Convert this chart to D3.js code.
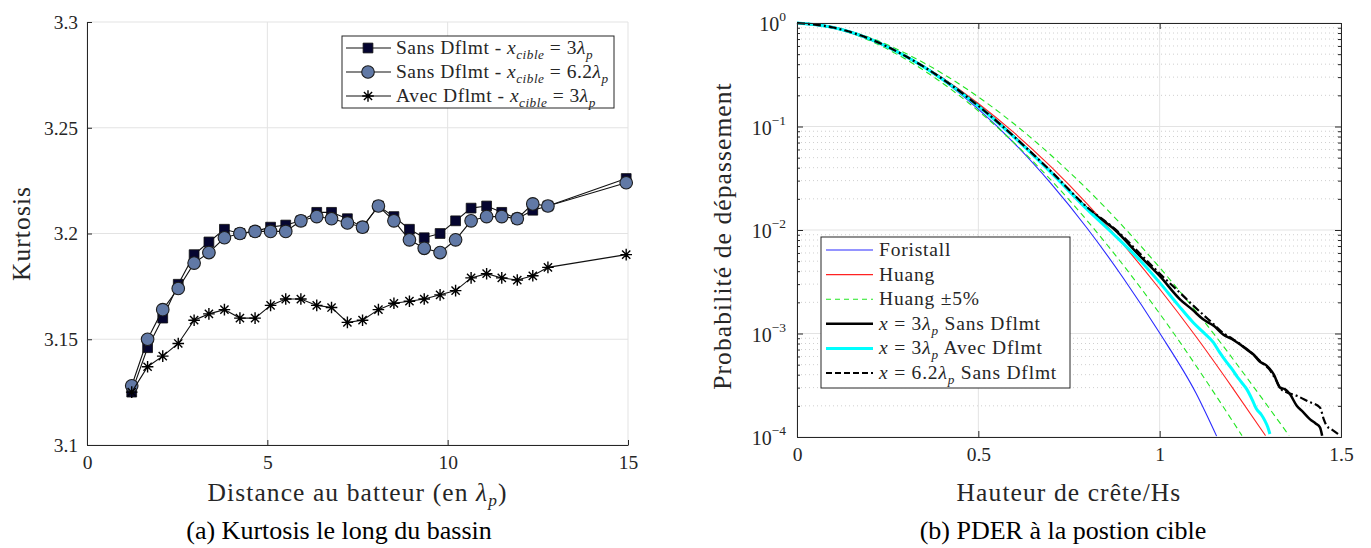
<!DOCTYPE html>
<html>
<head>
<meta charset="utf-8">
<script src="https://cdn.jsdelivr.net/npm/d3@7"></script>
<style>
    body { margin: 0; background: #fff; }
    text { font-family: 'Liberation Serif', 'DejaVu Serif', serif; fill: #262626; }
</style>
</head>
<body>
<svg id="chartSVG"></svg>
<script>
// (a) kurtosis along the tank
var distance = [1.24, 1.68, 2.10, 2.53, 2.97, 3.38, 3.81, 4.24, 4.66, 5.09, 5.51, 5.93, 6.37, 6.78, 7.22, 7.64, 8.08, 8.51, 8.94, 9.35, 9.79, 10.22, 10.65, 11.08, 11.50, 11.93, 12.36, 12.78, 14.95]
var kurtSans3 = [3.125, 3.146, 3.160, 3.176, 3.190, 3.196, 3.202, 3.200, 3.201, 3.203, 3.204, 3.206, 3.210, 3.210, 3.207, 3.203, 3.213, 3.208, 3.202, 3.198, 3.200, 3.206, 3.212, 3.213, 3.210, 3.207, 3.211, 3.213, 3.226]
var kurtSans62 = [3.128, 3.150, 3.164, 3.174, 3.186, 3.191, 3.198, 3.200, 3.201, 3.201, 3.201, 3.206, 3.208, 3.207, 3.205, 3.203, 3.213, 3.206, 3.197, 3.193, 3.191, 3.197, 3.206, 3.208, 3.208, 3.207, 3.214, 3.213, 3.224]
var kurtAvec3 = [3.125, 3.137, 3.142, 3.148, 3.159, 3.162, 3.164, 3.160, 3.160, 3.166, 3.169, 3.169, 3.166, 3.165, 3.158, 3.159, 3.164, 3.167, 3.168, 3.169, 3.171, 3.173, 3.179, 3.181, 3.179, 3.178, 3.180, 3.184, 3.190]
var distTicks = [0, 5, 10, 15]
var kurtTicks = [3.1, 3.15, 3.2, 3.25, 3.3]

// (b) exceedance probability of crest height
var hForistall = [0, 0.1, 0.2, 0.3, 0.4, 0.5, 0.6, 0.7, 0.8, 0.9, 1.0, 1.1, 1.157]
var pForistall = [1, 0.907, 0.704, 0.475, 0.282, 0.147, 0.0684, 0.0282, 0.0104, 0.00342, 0.00101, 0.000266, 0.000102]
var hHuang = [0, 0.1, 0.2, 0.3, 0.4, 0.5, 0.6, 0.7, 0.8, 0.9, 1.0, 1.1, 1.2, 1.292]
var pHuang = [1, 0.905, 0.702, 0.478, 0.296, 0.167, 0.0862, 0.0409, 0.0179, 0.0072, 0.00269, 0.000935, 0.000302, 0.000103]
var hHuangLow = [0, 0.095, 0.19, 0.285, 0.38, 0.475, 0.57, 0.665, 0.76, 0.855, 0.95, 1.045, 1.14, 1.227]
var hHuangHigh = [0, 0.105, 0.21, 0.315, 0.42, 0.525, 0.63, 0.735, 0.84, 0.945, 1.05, 1.155, 1.26, 1.357]
var hSans3 = [0, 0.1, 0.2, 0.3, 0.4, 0.5, 0.6, 0.7, 0.8, 0.877, 0.95, 1.0, 1.056, 1.09, 1.12, 1.15, 1.175, 1.2, 1.22, 1.24, 1.258, 1.275, 1.295, 1.315, 1.332, 1.345, 1.359, 1.378, 1.395, 1.414, 1.43, 1.442, 1.448]
var pSans3 = [1, 0.905, 0.703, 0.477, 0.29, 0.159, 0.079, 0.0365, 0.0162, 0.0100, 0.0054, 0.0036, 0.00214, 0.00170, 0.00137, 0.00118, 0.00098, 0.00088, 0.00079, 0.00070, 0.00063, 0.00054, 0.00049, 0.00040, 0.00030, 0.00029, 0.00026, 0.00020, 0.000175, 0.000149, 0.000135, 0.000124, 0.000103]
var hAvec3 = [0, 0.1, 0.2, 0.3, 0.4, 0.5, 0.6, 0.7, 0.8, 0.87, 0.95, 1.0, 1.05, 1.093, 1.12, 1.148, 1.165, 1.185, 1.2, 1.212, 1.225, 1.24, 1.255, 1.267, 1.28, 1.29, 1.298, 1.304]
var pAvec3 = [1, 0.905, 0.703, 0.476, 0.288, 0.157, 0.078, 0.036, 0.0158, 0.0093, 0.0049, 0.0031, 0.0019, 0.00127, 0.00103, 0.00082, 0.00066, 0.000525, 0.00045, 0.00039, 0.00034, 0.00029, 0.00023, 0.000186, 0.000165, 0.000144, 0.000125, 0.000107]
var hSans62 = [0, 0.1, 0.2, 0.3, 0.4, 0.5, 0.6, 0.7, 0.8, 0.877, 0.95, 1.0, 1.06, 1.09, 1.12, 1.15, 1.175, 1.2, 1.22, 1.24, 1.26, 1.28, 1.30, 1.32, 1.335, 1.35, 1.378, 1.41, 1.442, 1.452, 1.46, 1.475, 1.492]
var pSans62 = [1, 0.905, 0.703, 0.477, 0.29, 0.158, 0.079, 0.037, 0.0166, 0.0102, 0.0057, 0.0038, 0.0024, 0.00190, 0.00152, 0.00122, 0.00101, 0.00089, 0.00080, 0.00071, 0.00062, 0.00053, 0.00046, 0.00036, 0.00029, 0.00027, 0.00025, 0.00022, 0.000193, 0.000150, 0.000129, 0.000118, 0.000107]
var hTicks = [0, 0.5, 1, 1.5]
var pTicks = [1e-4, 1e-3, 1e-2, 1e-1, 1]

var axisColor = '#262626'
var gridColor = '#e3e3e3'
var tickFontSize = 19.5
var labelFontSize = 25.5
var labelSpacing = 1.1

var svg = d3.select('#chartSVG')
    .attr('width', 1371)
    .attr('height', 548)
svg.append('rect').attr('width', 1371).attr('height', 548).attr('fill', '#fff')

// write text made of runs: plain, italic, subscript
function addRuns(textSel, runs) {
    var shift = 0
    runs.forEach(function (r) {
        var t = textSel.append('tspan').text(r.t)
        if (r.i) t.style('font-style', 'italic')
        var want = r.sub ? 5 : 0
        if (want !== shift) t.attr('dy', want - shift)
        shift = want
        if (r.sub) t.attr('font-size', '0.68em')
    })
}

function styleAxis(g) {
    g.attr('font-family', null).attr('font-size', null)
    g.selectAll('text').attr('font-size', tickFontSize).attr('fill', axisColor)
    g.selectAll('line').attr('stroke', axisColor)
    g.select('.domain').attr('stroke', axisColor)
}

function starPath(r) {
    var p = d3.path()
    for (var k = 0; k < 4; k++) {
        var a = k * Math.PI / 4
        p.moveTo(-r * Math.cos(a), -r * Math.sin(a))
        p.lineTo(r * Math.cos(a), r * Math.sin(a))
    }
    return p.toString()
}

/* ---------- (a) ---------- */
var xScaleKurt = d3.scaleLinear().domain([0, 15]).range([87, 628])
var yScaleKurt = d3.scaleLinear().domain([3.1, 3.3]).range([445, 22])
var kurtLayer = svg.append('g')

kurtLayer.selectAll('.vgrid').data(distTicks).enter().append('line')
    .attr('x1', function (d) { return xScaleKurt(d) })
    .attr('x2', function (d) { return xScaleKurt(d) })
    .attr('y1', yScaleKurt(3.1))
    .attr('y2', yScaleKurt(3.3))
    .attr('stroke', gridColor)
kurtLayer.selectAll('.hgrid').data(kurtTicks).enter().append('line')
    .attr('x1', xScaleKurt(0))
    .attr('x2', xScaleKurt(15))
    .attr('y1', function (d) { return yScaleKurt(d) })
    .attr('y2', function (d) { return yScaleKurt(d) })
    .attr('stroke', gridColor)

kurtLayer.append('g')
    .attr('transform', 'translate(0, ' + yScaleKurt(3.1) + ')')
    .call(d3.axisBottom(xScaleKurt).tickValues(distTicks).tickSizeInner(-5).tickSizeOuter(0).tickPadding(10))
    .call(styleAxis)
kurtLayer.append('g')
    .attr('transform', 'translate(' + xScaleKurt(0) + ', 0)')
    .call(d3.axisLeft(yScaleKurt).tickValues(kurtTicks).tickFormat(d3.format('')).tickSizeInner(-5).tickSizeOuter(0).tickPadding(9))
    .call(styleAxis)

var kurtLine = d3.line()
    .x(function (d, i) { return xScaleKurt(distance[i]) })
    .y(function (d) { return yScaleKurt(d) })

kurtLayer.append('path').datum(kurtSans3)
    .attr('d', kurtLine).attr('fill', 'none').attr('stroke', '#111').attr('stroke-width', 1.1)
kurtLayer.selectAll('.sq').data(kurtSans3).enter().append('path')
    .attr('d', d3.symbol(d3.symbolSquare, 96))
    .attr('transform', function (d, i) { return 'translate(' + xScaleKurt(distance[i]) + ', ' + yScaleKurt(d) + ')' })
    .attr('fill', '#050530').attr('stroke', '#111').attr('stroke-width', 0.8)
kurtLayer.append('path').datum(kurtSans62)
    .attr('d', kurtLine).attr('fill', 'none').attr('stroke', '#111').attr('stroke-width', 1.1)
kurtLayer.selectAll('.ci').data(kurtSans62).enter().append('circle')
    .attr('cx', function (d, i) { return xScaleKurt(distance[i]) })
    .attr('cy', function (d) { return yScaleKurt(d) })
    .attr('r', 6.3)
    .attr('fill', '#6179a6').attr('stroke', '#1c1c1c').attr('stroke-width', 1.1)
kurtLayer.append('path').datum(kurtAvec3)
    .attr('d', kurtLine).attr('fill', 'none').attr('stroke', '#111').attr('stroke-width', 1.1)
kurtLayer.selectAll('.st').data(kurtAvec3).enter().append('path')
    .attr('d', starPath(5.8))
    .attr('transform', function (d, i) { return 'translate(' + xScaleKurt(distance[i]) + ', ' + yScaleKurt(d) + ')' })
    .attr('stroke', '#000').attr('stroke-width', 1.4)

kurtLayer.append('text')
    .attr('transform', 'translate(30, ' + yScaleKurt(3.2) + ') rotate(-90)')
    .attr('text-anchor', 'middle')
    .attr('font-size', labelFontSize)
    .attr('letter-spacing', labelSpacing)
    .text('Kurtosis')
var kurtXLabel = kurtLayer.append('text')
    .attr('x', xScaleKurt(7.5))
    .attr('y', 501)
    .attr('text-anchor', 'middle')
    .attr('font-size', labelFontSize)
    .attr('letter-spacing', labelSpacing)
addRuns(kurtXLabel, [{ t: 'Distance au batteur (en ' }, { t: 'λ', i: true }, { t: 'p', i: true, sub: true }, { t: ')' }])

// legend (a)
var kurtLegend = kurtLayer.append('g')
kurtLegend.append('rect')
    .attr('x', 342).attr('y', 36).attr('width', 272).attr('height', 72)
    .attr('fill', '#fff').attr('stroke', axisColor).attr('stroke-width', 1)
var kurtLegendNames = ['3', '6.2', '3']
var kurtLegendPrefix = ['Sans Dflmt - ', 'Sans Dflmt - ', 'Avec Dflmt - ']
kurtLegendNames.forEach(function (name, k) {
    var y = 48 + k * 24
    kurtLegend.append('line').attr('x1', 346).attr('x2', 391).attr('y1', y).attr('y2', y)
        .attr('stroke', '#111').attr('stroke-width', 1.1)
    if (k === 0) {
        kurtLegend.append('path').attr('d', d3.symbol(d3.symbolSquare, 96))
            .attr('transform', 'translate(368, ' + y + ')')
            .attr('fill', '#050530').attr('stroke', '#111').attr('stroke-width', 0.8)
    } else if (k === 1) {
        kurtLegend.append('circle').attr('cx', 368).attr('cy', y).attr('r', 6.3)
            .attr('fill', '#6179a6').attr('stroke', '#1c1c1c').attr('stroke-width', 1.1)
    } else {
        kurtLegend.append('path').attr('d', starPath(5.8))
            .attr('transform', 'translate(368, ' + y + ')')
            .attr('stroke', '#000').attr('stroke-width', 1.4)
    }
    var t = kurtLegend.append('text').attr('x', 396).attr('y', y + 6)
        .attr('font-size', 19.5).attr('letter-spacing', 0.5)
    addRuns(t, [{ t: kurtLegendPrefix[k] }, { t: 'x', i: true }, { t: 'cible', i: true, sub: true }, { t: ' = ' + name }, { t: 'λ', i: true }, { t: 'p', i: true, sub: true }])
})

/* ---------- (b) ---------- */
var xScalePder = d3.scaleLinear().domain([0, 1.5]).range([797, 1341])
var yScalePder = d3.scaleLog().domain([1e-4, 1]).range([437, 23])
var pderLayer = svg.append('g')

var minorP = yScalePder.ticks().filter(function (d) { return pTicks.indexOf(d) < 0 })
pderLayer.selectAll('.mgrid').data(minorP).enter().append('line')
    .attr('x1', xScalePder(0)).attr('x2', xScalePder(1.5))
    .attr('y1', function (d) { return yScalePder(d) })
    .attr('y2', function (d) { return yScalePder(d) })
    .attr('stroke', '#cfcfcf').attr('stroke-dasharray', '1,3')
pderLayer.selectAll('.pgrid').data(pTicks).enter().append('line')
    .attr('x1', xScalePder(0)).attr('x2', xScalePder(1.5))
    .attr('y1', function (d) { return yScalePder(d) })
    .attr('y2', function (d) { return yScalePder(d) })
    .attr('stroke', gridColor)
pderLayer.selectAll('.hgrid').data(hTicks).enter().append('line')
    .attr('x1', function (d) { return xScalePder(d) })
    .attr('x2', function (d) { return xScalePder(d) })
    .attr('y1', yScalePder(1e-4)).attr('y2', yScalePder(1))
    .attr('stroke', gridColor)

var pderLine = function (hs) {
    return d3.line()
        .x(function (d, i) { return xScalePder(hs[i]) })
        .y(function (d) { return yScalePder(d) })
        .curve(d3.curveMonotoneX)
}
var pderSeries = [
    { h: hForistall, p: pForistall, color: '#2a2aff', width: 1.1, dash: null, name: 'Foristall' },
    { h: hHuang, p: pHuang, color: '#ff2222', width: 1.1, dash: null, name: 'Huang' },
    { h: hHuangLow, p: pHuang, color: '#22e622', width: 1.1, dash: '6,4', name: 'Huang ±5%' },
    { h: hHuangHigh, p: pHuang, color: '#22e622', width: 1.1, dash: '6,4', name: null },
    { h: hSans3, p: pSans3, color: '#000', width: 2.5, dash: null, name: ['3', 'Sans Dflmt'] },
    { h: hAvec3, p: pAvec3, color: '#00ffff', width: 3, dash: null, name: ['3', 'Avec Dflmt'] },
    { h: hSans62, p: pSans62, color: '#000', width: 2.2, dash: '8,3,2,3', name: ['6.2', 'Sans Dflmt'] }
]
pderSeries.forEach(function (s) {
    pderLayer.append('path').datum(s.p)
        .attr('d', pderLine(s.h))
        .attr('fill', 'none')
        .attr('stroke', s.color)
        .attr('stroke-width', s.width)
        .attr('stroke-dasharray', s.dash)
})

// box, ticks
pderLayer.append('g')
    .attr('transform', 'translate(0, ' + yScalePder(1e-4) + ')')
    .call(d3.axisBottom(xScalePder).tickValues(hTicks).tickFormat(d3.format('')).tickSizeInner(-6).tickSizeOuter(0).tickPadding(10))
    .call(styleAxis)
pderLayer.append('g')
    .attr('transform', 'translate(0, ' + yScalePder(1) + ')')
    .call(d3.axisTop(xScalePder).tickValues(hTicks).tickFormat('').tickSizeInner(-6).tickSizeOuter(0))
    .call(styleAxis)
pderLayer.append('g')
    .attr('transform', 'translate(' + xScalePder(0) + ', 0)')
    .call(d3.axisLeft(yScalePder).tickValues(pTicks).tickFormat('').tickSizeInner(-6).tickSizeOuter(0))
    .call(styleAxis)
pderLayer.append('g')
    .attr('transform', 'translate(' + xScalePder(0) + ', 0)')
    .call(d3.axisLeft(yScalePder).tickValues(minorP).tickFormat('').tickSizeInner(-3).tickSizeOuter(0))
    .call(styleAxis)
pderLayer.append('g')
    .attr('transform', 'translate(' + xScalePder(1.5) + ', 0)')
    .call(d3.axisRight(yScalePder).tickValues(pTicks).tickFormat('').tickSizeInner(-6).tickSizeOuter(0))
    .call(styleAxis)
pderLayer.append('g')
    .attr('transform', 'translate(' + xScalePder(1.5) + ', 0)')
    .call(d3.axisRight(yScalePder).tickValues(minorP).tickFormat('').tickSizeInner(-3).tickSizeOuter(0))
    .call(styleAxis)

pderLayer.selectAll('.ylab').data(pTicks).enter().append('text')
    .attr('x', 786)
    .attr('y', function (d) { return yScalePder(d) + 8 })
    .attr('text-anchor', 'end')
    .attr('font-size', 20)
    .each(function (d) {
        var e = Math.round(Math.log10(d))
        d3.select(this).append('tspan').text('10')
        d3.select(this).append('tspan').attr('dy', -10).attr('font-size', 13.5)
            .text(e < 0 ? '−' + (-e) : String(e))
    })

pderLayer.append('text')
    .attr('transform', 'translate(731, 236) rotate(-90)')
    .attr('text-anchor', 'middle')
    .attr('font-size', labelFontSize)
    .attr('letter-spacing', labelSpacing)
    .text('Probabilité de dépassement')
pderLayer.append('text')
    .attr('x', xScalePder(0.75))
    .attr('y', 501)
    .attr('text-anchor', 'middle')
    .attr('font-size', labelFontSize)
    .attr('letter-spacing', labelSpacing)
    .text('Hauteur de crête/Hs')

// legend (b)
var pderLegend = pderLayer.append('g')
pderLegend.append('rect')
    .attr('x', 821).attr('y', 237).attr('width', 249).attr('height', 151)
    .attr('fill', '#fff').attr('stroke', axisColor).attr('stroke-width', 1)
pderSeries.filter(function (s) { return s.name !== null }).forEach(function (s, k) {
    var y = 250 + k * 24.6
    pderLegend.append('line').attr('x1', 826).attr('x2', 873).attr('y1', y).attr('y2', y)
        .attr('stroke', s.color).attr('stroke-width', s.width)
        .attr('stroke-dasharray', s.dash === '8,3,2,3' ? '6,3' : (s.dash ? '5,4' : null))
    var t = pderLegend.append('text').attr('x', 879).attr('y', y + 6)
        .attr('font-size', 19.5).attr('letter-spacing', 0.8)
    if (typeof s.name === 'string') {
        t.text(s.name)
    } else {
        addRuns(t, [{ t: 'x', i: true }, { t: ' = ' + s.name[0] }, { t: 'λ', i: true }, { t: 'p', i: true, sub: true }, { t: ' ' + s.name[1] }])
    }
})

// captions
svg.append('text')
    .attr('x', 339).attr('y', 539)
    .attr('text-anchor', 'middle')
    .attr('font-size', 26)
    .style('fill', '#000')
    .text('(a) Kurtosis le long du bassin')
svg.append('text')
    .attr('x', 1063).attr('y', 539)
    .attr('text-anchor', 'middle')
    .attr('font-size', 26)
    .style('fill', '#000')
    .text('(b) PDER à la postion cible')
</script>
</body>
</html>
